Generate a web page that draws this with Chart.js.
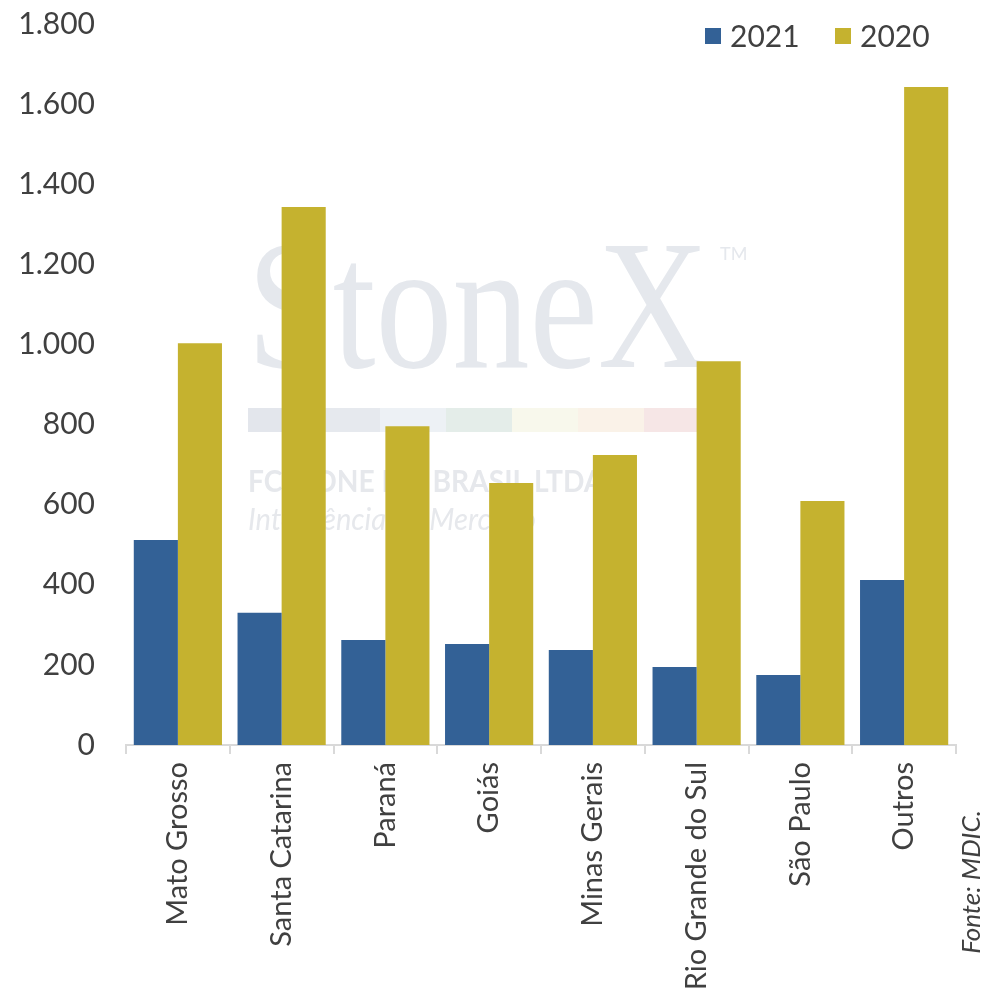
<!DOCTYPE html>
<html>
<head>
<meta charset="utf-8">
<script src="https://cdn.jsdelivr.net/npm/chart.js@4/dist/chart.umd.min.js"></script>
<style>
  html, body { margin: 0; padding: 0; background: #fff; }
  #wrap { width: 986px; height: 998px; }
</style>
</head>
<body>
<div id="wrap"><canvas id="chart" width="986" height="998"></canvas></div>
<script>
// Exportações por estado
const estados = ['Mato Grosso', 'Santa Catarina', 'Paraná', 'Goiás', 'Minas Gerais', 'Rio Grande do Sul', 'São Paulo', 'Outros'];
const valores2021 = [512, 330, 262, 252, 237, 195, 175, 412];
const valores2020 = [1003, 1343, 796, 654, 724, 958, 609, 1643];
const yTicks = [0, 200, 400, 600, 800, 1000, 1200, 1400, 1600, 1800];

const BLUE = '#336196', GOLD = '#c5b22f', TEXT = '#404040', AXIS = '#d9d9d9';
const FONT = 'Lato, "Open Sans", sans-serif';

const fmt = v => String(v).replace(/\B(?=(\d{3})+(?!\d))/g, '.');

// marca d'água StoneX atrás das barras
const watermark = {
  id: 'watermark',
  beforeDatasetsDraw(chart) {
    const ctx = chart.ctx;
    ctx.save();
    ctx.fillStyle = '#e5e8ed';
    ctx.textBaseline = 'alphabetic';
    ctx.textAlign = 'left';
    ctx.font = '184px "Liberation Serif", "DejaVu Serif", serif';
    ctx.fillText('StoneX', 247, 367, 462);
    ctx.font = '18px ' + FONT;
    ctx.fillText('TM', 720, 260);
    const stripe = ['#e3e6ec', '#e6e9ee', '#edf1f5', '#e4ede9', '#f8f8ec', '#faf2e8', '#f6e6e6'];
    stripe.forEach((c, i) => { ctx.fillStyle = c; ctx.fillRect(248 + i * 66, 408, 66, 24); });
    ctx.fillStyle = '#e6e8ec';
    ctx.font = 'bold 30px ' + FONT;
    ctx.fillText('FCSTONE DO BRASIL LTDA.', 248, 492, 362);
    ctx.font = 'italic 30px ' + FONT;
    ctx.fillText('Inteligência de Mercado', 248, 530, 288);
    ctx.restore();
  }
};

// legenda e fonte
const extras = {
  id: 'extras',
  afterDraw(chart) {
    const ctx = chart.ctx;
    ctx.save();
    ctx.font = '30px ' + FONT;
    ctx.textBaseline = 'middle';
    ctx.textAlign = 'left';
    const pos = [705, 835];
    chart.data.datasets.forEach((ds, i) => {
      ctx.fillStyle = ds.backgroundColor;
      ctx.fillRect(pos[i], 28, 16, 16);
      ctx.fillStyle = TEXT;
      ctx.fillText(ds.label, pos[i] + 25, 37);
    });
    ctx.translate(972, 882);
    ctx.rotate(-Math.PI / 2);
    ctx.textAlign = 'center';
    ctx.font = 'italic 26px ' + FONT;
    ctx.fillText('Fonte: MDIC.', 0, 0);
    ctx.restore();
  }
};

new Chart(document.getElementById('chart'), {
  type: 'bar',
  data: {
    labels: estados,
    datasets: [
      { label: '2021', data: valores2021, backgroundColor: BLUE },
      { label: '2020', data: valores2020, backgroundColor: GOLD }
    ]
  },
  options: {
    responsive: false,
    animation: false,
    layout: { padding: { top: 24, right: 30, left: 0, bottom: 0 } },
    datasets: { bar: { categoryPercentage: 0.85, barPercentage: 1.0 } },
    plugins: { legend: { display: false }, tooltip: { enabled: false } },
    scales: {
      x: {
        grid: { offset: true, drawOnChartArea: false, drawTicks: true, tickLength: 9, color: AXIS, lineWidth: 2 },
        border: { color: AXIS, width: 2 },
        ticks: { color: TEXT, font: { family: FONT, size: 29 }, maxRotation: 90, minRotation: 90, padding: 8, autoSkip: false },
        afterFit: s => { s.height = 253; s.paddingLeft = 0; s.paddingRight = 0; }
      },
      y: {
        min: 0, max: 1800,
        afterBuildTicks: s => { s.ticks = yTicks.map(v => ({ value: v })); },
        grid: { display: false },
        border: { display: false },
        ticks: { color: TEXT, font: { family: FONT, size: 30 }, padding: 23, callback: v => fmt(v) },
        afterFit: s => { s.width = 126; s.paddingTop = 0; s.paddingBottom = 0; }
      }
    }
  },
  plugins: [watermark, extras]
});
</script>
</body>
</html>
